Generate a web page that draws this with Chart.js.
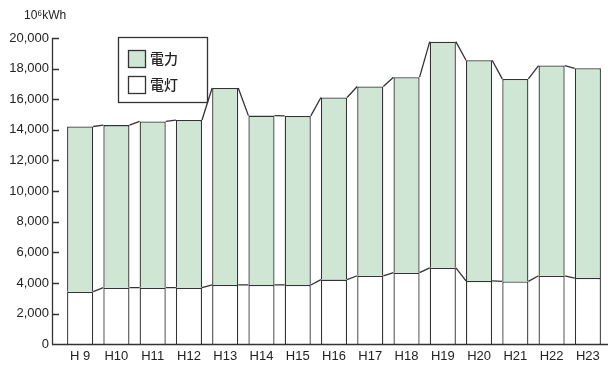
<!DOCTYPE html>
<html>
<head>
<meta charset="utf-8">
<script src="https://cdn.jsdelivr.net/npm/chart.js@4"></script>
<style>
  html, body { margin: 0; padding: 0; background: #fff; }
  #wrap { width: 608px; height: 365px; }
</style>
</head>
<body>
<div id="wrap"><canvas id="chart" width="608" height="365"></canvas></div>
<script>
const years = ['H 9', 'H10', 'H11', 'H12', 'H13', 'H14', 'H15', 'H16', 'H17', 'H18', 'H19', 'H20', 'H21', 'H22', 'H23'];
const lighting = [3430, 3690, 3690, 3690, 3870, 3870, 3870, 4220, 4470, 4670, 4990, 4130, 4100, 4470, 4320];
const power = [10790, 10620, 10860, 10950, 12860, 11060, 11040, 11890, 12360, 12770, 14770, 14420, 13230, 13730, 13700];
const yTicks = [0, 2000, 4000, 6000, 8000, 10000, 12000, 14000, 16000, 18000, 20000];
const unitLabel = '10⁶kWh';

const lineColor = '#333';
const green = '#cfe6d5';

// axis line, inward ticks, baseline, step lines between bars, legend box
const extras = {
    id: 'extras',
    afterDatasetsDraw(chart) {
        const ctx = chart.ctx;
        const y = chart.scales.y;
        const axisX = 52;

        ctx.save();
        ctx.strokeStyle = lineColor;
        ctx.lineWidth = 1.3;

        // connectors between neighbouring bars
        chart.data.datasets.forEach((ds, d) => {
            const bars = chart.getDatasetMeta(d).data;
            ctx.beginPath();
            for (let i = 0; i < bars.length - 1; i++) {
                const a = bars[i], b = bars[i + 1];
                ctx.moveTo(a.x + a.width / 2, a.y);
                ctx.lineTo(b.x - b.width / 2, b.y);
            }
            ctx.stroke();
        });

        // y axis + ticks
        ctx.beginPath();
        ctx.moveTo(axisX + 0.5, y.getPixelForValue(20000));
        ctx.lineTo(axisX + 0.5, y.getPixelForValue(0));
        yTicks.forEach(v => {
            const py = Math.round(y.getPixelForValue(v)) + 0.5;
            ctx.moveTo(axisX, py);
            ctx.lineTo(axisX + 7, py);
        });
        // baseline
        const by = Math.round(y.getPixelForValue(0)) + 0.5;
        ctx.moveTo(axisX, by);
        ctx.lineTo(chart.width, by);
        ctx.stroke();

        // unit
        ctx.fillStyle = '#222';
        ctx.font = '12px "Liberation Sans", Arial, sans-serif';
        ctx.textBaseline = 'middle';
        ctx.textAlign = 'left';
        ctx.fillText(unitLabel, 24, 16);

        // legend
        ctx.fillStyle = '#fff';
        ctx.fillRect(118.5, 37.5, 89, 65);
        ctx.strokeRect(118.5, 37.5, 89, 65);
        const items = chart.data.datasets.slice().reverse();
        items.forEach((ds, i) => {
            const top = 50 + i * 26;
            ctx.fillStyle = ds.backgroundColor;
            ctx.fillRect(128.5, top + 0.5, 17, 17);
            ctx.strokeRect(128.5, top + 0.5, 17, 17);
            ctx.fillStyle = '#222';
            ctx.font = '500 14px "Noto Sans CJK JP", sans-serif';
            ctx.fillText(ds.label, 150, top + 9);
        });
        ctx.restore();
    }
};

new Chart(document.getElementById('chart'), {
    type: 'bar',
    data: {
        labels: years,
        datasets: [
            { label: '電灯', data: lighting, backgroundColor: '#ffffff', borderColor: lineColor, borderWidth: 1.3 },
            { label: '電力', data: power, backgroundColor: green, borderColor: lineColor, borderWidth: 1.3 }
        ]
    },
    options: {
        responsive: false,
        animation: false,
        layout: { padding: { top: 38, right: 2, bottom: 0, left: 0 } },
        datasets: { bar: { barPercentage: 0.72, categoryPercentage: 1 } },
        plugins: { legend: { display: false }, tooltip: { enabled: false } },
        scales: {
            x: {
                stacked: true,
                grid: { display: false, drawTicks: false },
                border: { display: false },
                ticks: { color: '#222', padding: 4, font: { family: '"Liberation Sans", Arial, sans-serif', size: 13 } },
                afterFit(scale) { scale.height = 20; }
            },
            y: {
                stacked: true,
                min: 0,
                max: 20000,
                grid: { display: false, drawTicks: false },
                border: { display: false },
                afterBuildTicks(scale) { scale.ticks = yTicks.map(v => ({ value: v })); },
                afterFit(scale) { scale.width = 62; },
                ticks: {
                    color: '#222',
                    padding: 13,
                    font: { family: '"Liberation Sans", Arial, sans-serif', size: 13 },
                    callback: v => v.toLocaleString('en-US')
                }
            }
        }
    },
    plugins: [extras]
});
</script>
</body>
</html>
